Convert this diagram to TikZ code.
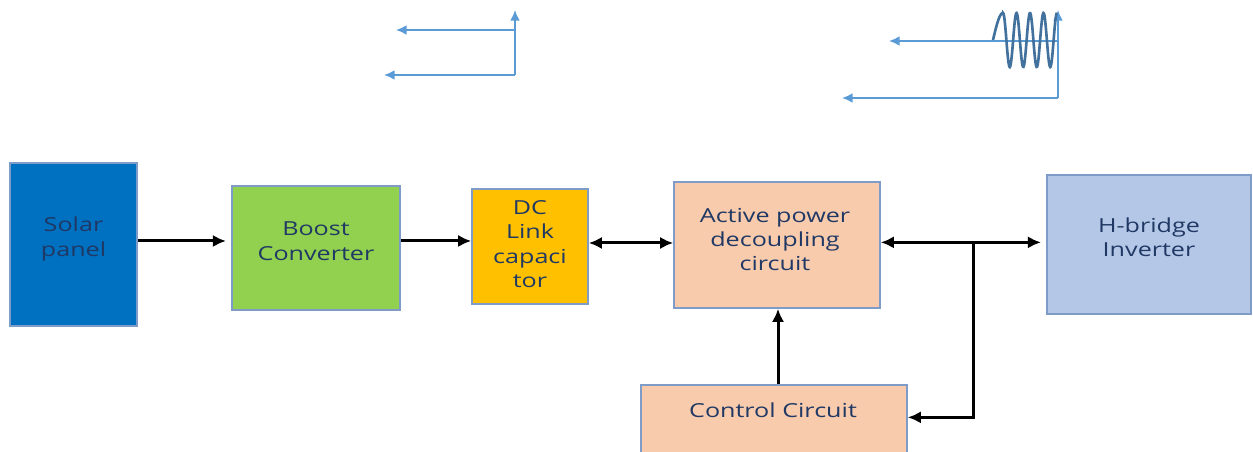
\documentclass[tikz,border=0pt]{standalone}
\usepackage{fontspec}
\setmainfont{Open Sans}[FakeStretch=1.3]
\usetikzlibrary{arrows.meta}
\definecolor{boxline}{HTML}{7F9CC8}
\definecolor{solarblue}{HTML}{0070C0}
\definecolor{boostgreen}{HTML}{92D050}
\definecolor{linkyellow}{HTML}{FFC000}
\definecolor{peach}{HTML}{F8CBAD}
\definecolor{bridgeblue}{HTML}{B4C7E7}
\definecolor{navytext}{HTML}{1F3864}
\definecolor{sketchblue}{HTML}{5B9BD5}
\definecolor{wavedark}{HTML}{41719C}
\tikzset{
  blk/.style={draw=boxline, line width=0.9pt, inner sep=0pt},
  lbl/.style={align=center, text=navytext, font=\fontsize{11}{13.9}\selectfont, inner sep=0pt},
  flow/.style={-{Latex[length=7.5pt,width=7pt]}, line width=1.7pt},
  dflow/.style={{Latex[length=7.5pt,width=7pt]}-{Latex[length=7.5pt,width=7pt]}, line width=1.7pt},
  sketch/.style={sketchblue, line width=0.9pt, -{Latex[length=6pt,width=5.5pt]}},
}
\begin{document}
\begin{tikzpicture}[x=0.02cm,y=-0.02cm]
    \useasboundingbox (0,0) rectangle (1253,452);
    % blocks
    \node[blk, fill=solarblue, minimum width=2.54cm, minimum height=3.26cm] (solar) at (73.5,244.5) {};
    \node[blk, fill=boostgreen, minimum width=3.36cm, minimum height=2.48cm] (boost) at (316,248) {};
    \node[blk, fill=linkyellow, minimum width=2.32cm, minimum height=2.3cm] (dclink) at (530,246.5) {};
    \node[blk, fill=peach, minimum width=4.12cm, minimum height=2.52cm] (apd) at (777,245) {};
    \node[blk, fill=bridgeblue, minimum width=4.08cm, minimum height=2.78cm] (hbridge) at (1149,244.5) {};
    \node[blk, fill=peach, minimum width=5.32cm, minimum height=1.4cm] (ctrl) at (774,420) {};
    % power path
    \draw[flow, shorten >=3pt] ([yshift=2pt]solar.east) -- ([yshift=2pt]solar.east -| boost.west);
    \draw[flow] ([yshift=4pt]boost.east) -- ([yshift=4pt]boost.east -| dclink.west);
    \draw[dflow] ([yshift=2pt]dclink.east) -- ([yshift=2pt]dclink.east -| apd.west);
    \draw[dflow, shorten >=3pt] ([yshift=1.5pt]apd.east) -- ([yshift=1.5pt]apd.east -| hbridge.west);
    % feedback
    \coordinate (tap) at ([yshift=1.5pt]apd.east -| 973,0);
    \draw[flow] (tap) |- ([yshift=1.5pt]ctrl.east);
    \draw[flow] (ctrl.north -| 778,0) -- (apd.south -| 778,0);
    % dc sketch
    \coordinate (dco) at (515,75);
    \draw[sketch] (dco) -- (515,10);
    \draw[sketch] (515,30) -- (396,30);
    \draw[sketch] (dco) -- (384,75);
    % ripple sketch
    \coordinate (aco) at (1058,98);
    \draw[sketch] (aco) -- (1058,10);
    \draw[sketch] (1058,41) -- (889,41);
    \draw[sketch] (aco) -- (842,98);
    \begin{scope}[shift={(993,40)}]
        \draw[wavedark, line width=1.5pt] plot[domain=0:10, samples=12] (\x,{-27*sin(9*\x)})
            -- plot[domain=10:64, samples=120] (\x,{-27*cos(26.67*(\x-10))});
    \end{scope}
    % texts
    \node[lbl] (solartxt) at (73.5,239) {Solar\\panel};
    \node[lbl] (boosttxt) at (316,241) {Boost\\Converter};
    \node[lbl] (dclinktxt) at (530,244) {DC\\Link\\capaci\\tor};
    \node[lbl] (apdtxt) at (775,239.5) {Active power\\decoupling\\circuit};
    \node[lbl] (hbridgetxt) at (1149,237.5) {H-bridge\\Inverter};
    \node[lbl] (ctrltxt) at (773,410) {Control Circuit};
\end{tikzpicture}
\end{document}
